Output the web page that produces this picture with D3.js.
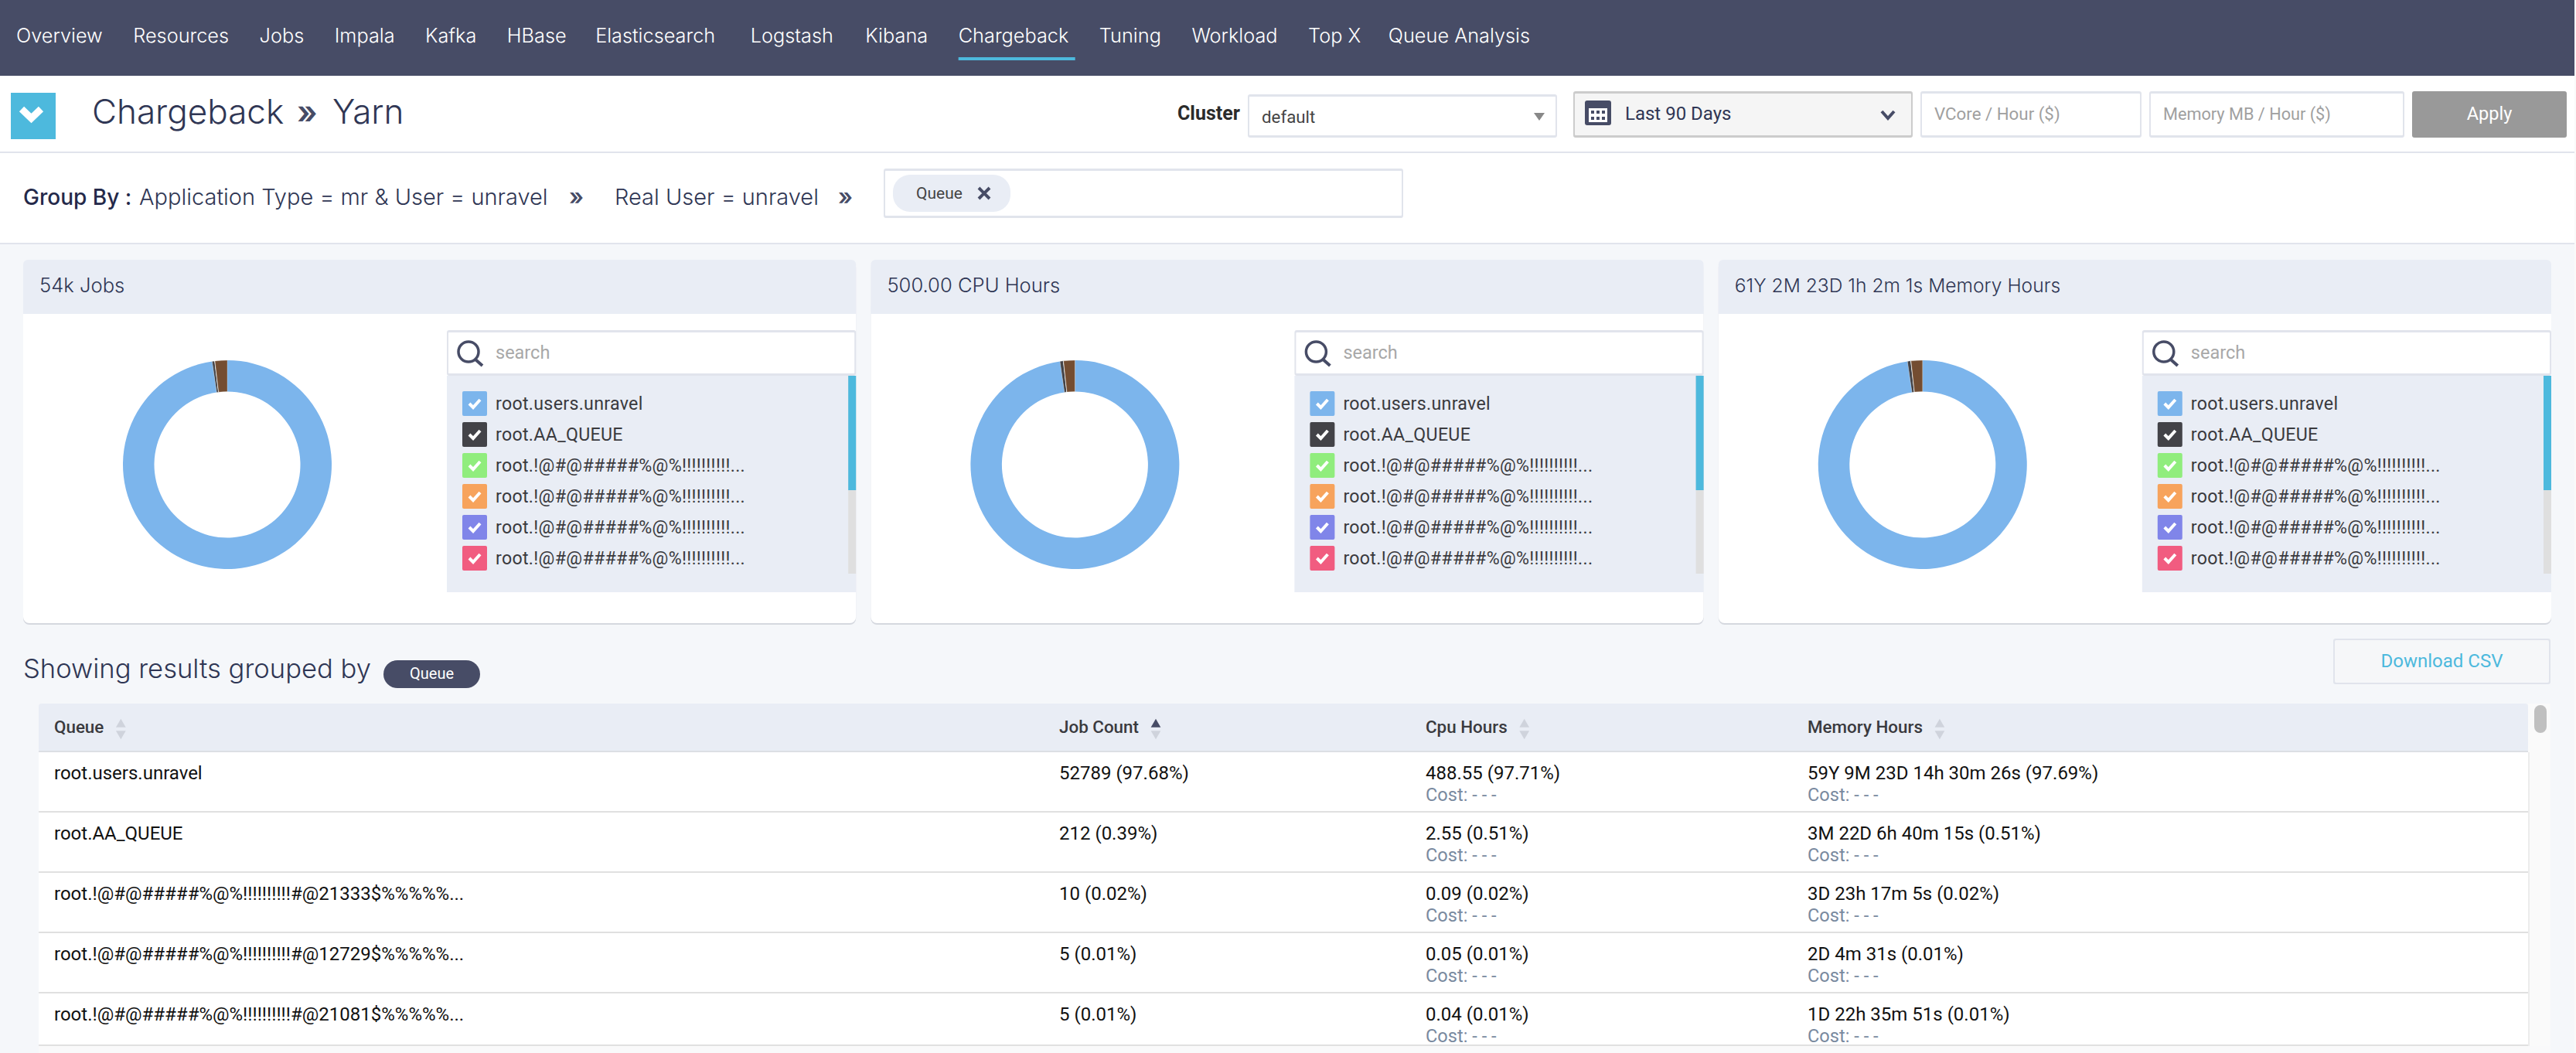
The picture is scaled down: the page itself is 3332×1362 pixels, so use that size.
<!DOCTYPE html>
<html>
<head>
<meta charset="utf-8">
<title>Chargeback</title>
<script src="https://cdn.jsdelivr.net/npm/d3@7/dist/d3.min.js"></script>
<style>
  html, body { margin: 0; padding: 0; background: #f5f7fa; overflow: hidden; }
  svg { display: block; }
</style>
</head>
<body>
<script>
// chart values
var navItems = ["Overview", "Resources", "Jobs", "Impala", "Kafka", "HBase", "Elasticsearch", "Logstash", "Kibana", "Chargeback", "Tuning", "Workload", "Top X", "Queue Analysis"];
var activeNav = "Chargeback";
var cardTitles = ["54k Jobs", "500.00 CPU Hours", "61Y 2M 23D 1h 2m 1s Memory Hours"];
var legendLabels = ["root.users.unravel", "root.AA_QUEUE", "root.!@#@#####%@%!!!!!!!!!!...", "root.!@#@#####%@%!!!!!!!!!!...", "root.!@#@#####%@%!!!!!!!!!!...", "root.!@#@#####%@%!!!!!!!!!!..."];

// share of each queue in percent, last one is the rest (brown slice)
var jobShare = [97.68, 0.39, 0.02, 0.01, 0.01, 1.89];
var cpuShare = [97.71, 0.51, 0.02, 0.01, 0.01, 1.74];
var memoryShare = [97.69, 0.51, 0.02, 0.01, 0.01, 1.76];

var columnNames = ["Queue", "Job Count", "Cpu Hours", "Memory Hours"];
var sortedColumn = "Job Count";
var queueCells = ["root.users.unravel", "root.AA_QUEUE", "root.!@#@#####%@%!!!!!!!!!!#@21333$%%%%%...", "root.!@#@#####%@%!!!!!!!!!!#@12729$%%%%%...", "root.!@#@#####%@%!!!!!!!!!!#@21081$%%%%%..."];
var jobCells = ["52789 (97.68%)", "212 (0.39%)", "10 (0.02%)", "5 (0.01%)", "5 (0.01%)"];
var cpuCells = ["488.55 (97.71%)", "2.55 (0.51%)", "0.09 (0.02%)", "0.05 (0.01%)", "0.04 (0.01%)"];
var memoryCells = ["59Y 9M 23D 14h 30m 26s (97.69%)", "3M 22D 6h 40m 15s (0.51%)", "3D 23h 17m 5s (0.02%)", "2D 4m 31s (0.01%)", "1D 22h 35m 51s (0.01%)"];

var W = 3332, H = 1362;
var HEAD = "Inter, sans-serif";
var BODY = "Roboto, sans-serif";
var NAVY = "#474c66";
var INK = "#2f3654";
var PANEL = "#e9edf5";
var LINE = "#e1e4ec";
var TEAL = "#4db9dd";
var sliceColors = ["#7cb5ec", "#434348", "#90ed7d", "#f7a35c", "#8085e9", "#f15c80"];
var restColor = "#744d31";
// the nav font is not quite the original one, these even out the word widths
var navNudge = { HBase: -2, Elasticsearch: 6, Logstash: 2, "Top X": -4 };

var svg = d3.select("body").append("svg").attr("width", W).attr("height", H);

// little helpers so the layout code stays readable
function text(parent, x, y, str, size, color, family, weight, anchor) {
    return parent.append("text")
        .attr("x", x).attr("y", y)
        .attr("font-size", size)
        .attr("font-family", family || BODY)
        .attr("font-weight", weight || 400)
        .attr("text-anchor", anchor || "start")
        .attr("fill", color)
        .text(str);
}
function rect(parent, x, y, w, h, fill, rx) {
    return parent.append("rect")
        .attr("x", x).attr("y", y).attr("width", w).attr("height", h)
        .attr("rx", rx || 0).attr("fill", fill);
}
function inputBox(parent, x, y, w, h, fill, border) {
    rect(parent, x, y, w, h, border, 3);
    rect(parent, x + 2, y + 3, w - 4, h - 6, fill, 1);
}

rect(svg, 0, 0, W, H, "#f5f7fa");

// top nav, items are laid out one after the other
rect(svg, 0, 0, W, 98, NAVY);
var navX = 21;
navItems.forEach(function(name) {
    var t = text(svg, navX, 55, name, 25.3, "#fff", HEAD, 300);
    var len = t.node().getComputedTextLength();
    if (name === activeNav) {
        rect(svg, navX, 74, 151, 4, TEAL);
    }
    navX += len + 39.5 + (navNudge[name] || 0);
});

// title bar
rect(svg, 0, 98, W, 217, "#fff");
rect(svg, 0, 196, W, 2, LINE);
rect(svg, 0, 314, W, 2, LINE);
rect(svg, 14, 120, 58, 60, TEAL);
svg.append("path").attr("d", "M28 141L40.5 153L53 141").attr("fill", "none").attr("stroke", "#fff").attr("stroke-width", 9);
text(svg, 119, 160, "Chargeback", 44, INK, HEAD, 300);
text(svg, 384, 160, "»", 42, NAVY, HEAD, 600);
text(svg, 430, 160, "Yarn", 44, INK, HEAD, 300);

// controls on the right
text(svg, 1523, 155, "Cluster", 25, "#2b2b2b", BODY, 700);
inputBox(svg, 1614, 122, 400, 56, "#fff", LINE);
text(svg, 1632, 159, "default", 22.3, "#444", BODY);
svg.append("path").attr("d", "M1984 146h14l-7 10z").attr("fill", "#888");
inputBox(svg, 2035, 118, 439, 60, "#f5f5f5", "#ccc");
// calendar icon
rect(svg, 2050, 130, 34, 32, NAVY, 3);
rect(svg, 2055, 140, 24, 18, "#fff");
d3.range(3).forEach(function(i) {
    rect(svg, 2058 + i * 7, 143, 4, 4, NAVY);
    rect(svg, 2058 + i * 7, 151, 4, 4, NAVY);
});
text(svg, 2102, 155, "Last 90 Days", 24, "#2f3654", BODY);
svg.append("path").attr("d", "M2434 144L2442 153L2450 144").attr("fill", "none").attr("stroke", NAVY).attr("stroke-width", 4);
inputBox(svg, 2484, 118, 286, 60, "#fff", LINE);
text(svg, 2502, 155, "VCore / Hour ($)", 22.3, "#a0a0a0", BODY);
inputBox(svg, 2780, 118, 330, 60, "#fff", LINE);
text(svg, 2798, 155, "Memory MB / Hour ($)", 21.7, "#a0a0a0", BODY);
rect(svg, 3120, 118, 200, 60, "#999", 3);
text(svg, 3220, 155, "Apply", 23.5, "#fff", BODY, 400, "middle");

// group by row
text(svg, 30, 265, "Group By :", 28, "#24294a", HEAD, 500);
text(svg, 180, 265, "Application Type = mr & User = unravel", 29, INK, HEAD, 300);
text(svg, 736, 265, "»", 30, NAVY, HEAD, 600);
text(svg, 795, 265, "Real User = unravel", 29, INK, HEAD, 300);
text(svg, 1084, 265, "»", 30, NAVY, HEAD, 600);
inputBox(svg, 1143, 218, 672, 64, "#fff", LINE);
rect(svg, 1155, 226, 152, 48, PANEL, 22);
text(svg, 1185, 257, "Queue", 21, "#444", BODY);
svg.append("path").attr("d", "M1266 243L1280 257M1280 243L1266 257").attr("stroke", NAVY).attr("stroke-width", 4);

// the three donut cards
var cardX = d3.scaleBand().domain(d3.range(3)).range([30, 3300]).paddingInner(0.0175);
var legendY = d3.scaleBand().domain(d3.range(legendLabels.length)).range([502, 742]);
var pie = d3.pie().sort(null).startAngle(0).endAngle(2 * Math.PI);
var arc = d3.arc().innerRadius(94.5).outerRadius(135);

[jobShare, cpuShare, memoryShare].forEach(function(values, idx) {
    var x0 = cardX(idx), cw = cardX.bandwidth();
    var g = svg.append("g").attr("transform", "translate(" + x0 + ",0)");
    rect(g, 0, 338, cw, 470, "#d5d8df", 8);
    rect(g, 0, 336, cw, 470, "#fff", 8);
    rect(g, 0, 336, cw, 70, PANEL, 6);
    rect(g, 0, 396, cw, 10, PANEL);
    text(g, 21, 378, cardTitles[idx], idx === 2 ? 24.6 : 25.6, INK, HEAD, 300);

    g.append("g").attr("transform", "translate(264,601)")
        .selectAll("path")
        .data(pie(values))
        .enter()
        .append("path")
        .attr("d", arc)
        .attr("fill", function(d, i) { return i === values.length - 1 ? restColor : sliceColors[i]; })
        .attr("stroke", "#fff")
        .attr("stroke-opacity", function(d, i) { return i === 0 ? 0 : 0.5; })
        .attr("stroke-width", 0.5);

    // search box and legend list
    inputBox(g, 548, 427, cw - 548, 59, "#fff", LINE);
    g.append("circle").attr("cx", 576).attr("cy", 455).attr("r", 13).attr("fill", "none").attr("stroke", NAVY).attr("stroke-width", 3.5);
    g.append("path").attr("d", "M585 465L594 473").attr("stroke", NAVY).attr("stroke-width", 4);
    text(g, 611, 464, "search", 23.5, "#a8a8a8", BODY);

    rect(g, 548, 486, cw - 548, 280, PANEL);
    rect(g, cw - 10, 486, 10, 256, "#dfdfdf");
    rect(g, cw - 10, 486, 10, 148, TEAL);

    var rows = g.selectAll(".legend-row")
        .data(legendLabels)
        .enter()
        .append("g")
        .attr("class", "legend-row")
        .attr("transform", function(d, i) { return "translate(568," + legendY(i) + ")"; });
    rows.append("rect")
        .attr("y", 4).attr("width", 32).attr("height", 32).attr("rx", 2)
        .attr("fill", function(d, i) { return sliceColors[i]; });
    rows.append("path")
        .attr("d", "M9 20L14 25L23 15")
        .attr("fill", "none").attr("stroke", "#fff").attr("stroke-width", 4);
    rows.append("text")
        .attr("x", 43).attr("y", 28)
        .attr("font-family", BODY).attr("font-size", 23.2)
        .attr("letter-spacing", 0.3)
        .attr("fill", "#3a3a3e")
        .text(function(d) { return d; });
});

// results table
text(svg, 30, 877, "Showing results grouped by", 34.6, INK, HEAD, 300);
rect(svg, 496, 854, 125, 36, NAVY, 18);
text(svg, 558.5, 878, "Queue", 20, "#fff", BODY, 400, "middle");

rect(svg, 3018, 826, 281, 59, LINE, 3);
rect(svg, 3020, 828, 277, 55, "#f6f7f9", 2);
text(svg, 3158.5, 863, "Download CSV", 24, TEAL, BODY, 400, "middle");

var columnX = d3.scaleOrdinal().domain(columnNames).range([70, 1370, 1844, 2338]);
var rowY = d3.scaleBand().domain(d3.range(queueCells.length)).range([973, 1363]);

rect(svg, 50, 910, 3220, 63, PANEL, 4);
rect(svg, 50, 971, 3220, 2, "#dcdfe4");
rect(svg, 50, 973, 3220, 378, "#fff");
rect(svg, 50, 1351, 3220, 2, "#e0e0e0");
rect(svg, 50, 1353, 3249, 9, "#f9f9fa");
rect(svg, 3270, 910, 29, 443, "#fafafa");
rect(svg, 3270, 973, 2, 380, "#ececec");
rect(svg, 3278, 912, 16, 36, "#c0c0c0", 8);

var triangle = d3.symbol().type(d3.symbolTriangle).size(70);
columnNames.forEach(function(name) {
    var x = columnX(name);
    var t = text(svg, x, 948, name, 22.4, "#3a3a3e", BODY, 500);
    var ax = x + t.node().getComputedTextLength() + 22;
    svg.append("path").attr("d", triangle).attr("transform", "translate(" + ax + ",937)")
        .attr("fill", name === sortedColumn ? NAVY : "#cfd3dc");
    svg.append("path").attr("d", triangle).attr("transform", "translate(" + ax + ",949) rotate(180)")
        .attr("fill", "#cfd3dc");
});

var rows = svg.selectAll(".row")
    .data(queueCells)
    .enter()
    .append("g")
    .attr("class", "row")
    .attr("transform", function(d, i) { return "translate(0," + rowY(i) + ")"; });

rows.filter(function(d, i) { return i < queueCells.length - 1; })
    .append("rect")
    .attr("x", 50).attr("y", 76).attr("width", 3220).attr("height", 2).attr("fill", "#e0e0e0");

[queueCells, jobCells, cpuCells, memoryCells].forEach(function(cells, c) {
    var x = columnX(columnNames[c]);
    rows.append("text")
        .attr("x", x).attr("y", 35)
        .attr("font-family", BODY).attr("font-size", 24)
        .attr("fill", "#111")
        .text(function(d, i) { return cells[i]; });
    // only the hour columns have a cost line
    if (c > 1) {
        rows.append("text")
            .attr("x", x).attr("y", 63)
            .attr("font-family", BODY).attr("font-size", 23.6)
            .attr("fill", "#7a8a9f")
            .text("Cost: - - -");
    }
});

rect(svg, 3330, 0, 2, H, "#fafafa");
</script>
</body>
</html>
